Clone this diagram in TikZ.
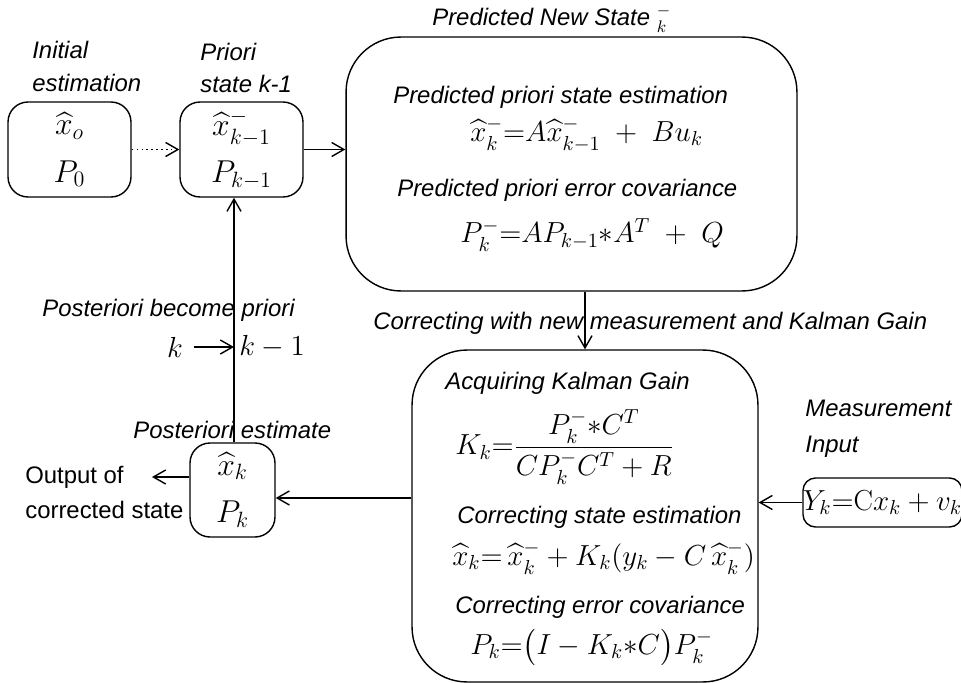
\documentclass[tikz,border=0pt]{standalone}
\usepackage{fix-cm}
\usepackage{amsmath}
\usepackage{fontspec}
\setsansfont{Liberation Sans}
\usetikzlibrary{arrows.meta}

\tikzset{
  box/.style = {draw, line width=0.8pt, rounded corners=0.4cm, align=center, inner sep=0pt,
                font=\fontsize{18}{21}\selectfont},
  bigbox/.style = {draw, line width=0.8pt, rounded corners=1.1cm, inner sep=0pt},
  lbl/.style = {font=\sffamily\itshape\fontsize{13.6}{16}\selectfont, anchor=west, inner sep=0pt},
  txt/.style = {font=\sffamily\fontsize{13.6}{16}\selectfont, anchor=west, inner sep=0pt},
  eqn/.style = {font=\fontsize{16.5}{19}\selectfont, anchor=west, inner sep=0pt},
  arr/.style = {-{Straight Barb[length=7pt,width=8pt]}, line width=0.8pt}
}

\begin{document}
\begin{tikzpicture}[x=0.02cm, y=-0.02cm]
    \useasboundingbox (0,0) rectangle (961,683);
    % Draw the boxes
    \node[box, minimum width=2.46cm, minimum height=1.9cm] (init) at (69.5,149.5) {$\widehat{x}_o$\\[6pt] $P_0$};
    \node[box, minimum width=2.46cm, minimum height=1.9cm] (prio) at (241.5,149.5) {$\widehat{x}_{k-1}^{-}$\\[6pt] $P_{k-1}$};
    \node[bigbox, minimum width=9.02cm, minimum height=5.08cm] (pred) at (571.5,164) {};
    \node[bigbox, minimum width=6.92cm, minimum height=6.64cm] (corr) at (585,516) {};
    \node[box, minimum width=1.7cm, minimum height=1.88cm] (post) at (232.5,490) {$\widehat{x}_k$\\[6pt] $P_k$};
    \node[box, rounded corners=0.25cm, minimum width=3.1cm, minimum height=0.98cm,
          font=\fontsize{16.5}{19}\selectfont] (meas) at (882.5,502.5) {$Y_k{=}\mathrm{C}x_k + v_k$};
    % Labels over the boxes
    \node[lbl] (initl1) at (32,50) {Initial};
    \node[lbl] (initl2) at (32,83) {estimation};
    \node[lbl] (priol1) at (200,52) {Priori};
    \node[lbl] (priol2) at (200,84) {state k-1};
    \node[lbl] (predl) at (432,19) {Predicted New State ${}^{-}_{k}$};
    \node[lbl] (postl) at (133,430) {Posteriori estimate};
    \node[lbl] (becl) at (42,310) {Posteriori become priori};
    \node[lbl] (corrl) at (373,323) {Correcting with new measurement and Kalman Gain};
    \node[lbl] (measl1) at (805,408) {Measurement};
    \node[lbl] (measl2) at (805,447) {Input};
    \node[txt] (outl1) at (25,477) {Output of};
    \node[txt] (outl2) at (25,510) {corrected state};
    % Prediction step
    \node[lbl] (predt1) at (393,97) {Predicted priori state estimation};
    \node[eqn] (prede1) at (470,135) {$\widehat{x}_k^{-}{=}A\widehat{x}_{k-1}^{-} \;+\; Bu_k$};
    \node[lbl] (predt2) at (397,190) {Predicted priori error covariance};
    \node[eqn] (prede2) at (460,235) {$P_k^{-}{=}AP_{k-1}{*}A^T \;+\; Q$};
    % Correction step
    \node[lbl] (corrt1) at (445,383) {Acquiring Kalman Gain};
    \node[eqn] (corre1) at (455,447) {$K_k{=}\dfrac{P_k^{-}{*}C^T}{CP_k^{-}C^T + R}$};
    \node[lbl] (corrt2) at (457,517) {Correcting state estimation};
    \node[eqn] (corre2) at (452,558) {$\widehat{x}_k{=}\,\widehat{x}_k^{-} + K_k(y_k - C\,\widehat{x}_k^{-})$};
    \node[lbl] (corrt3) at (455,607) {Correcting error covariance};
    \node[eqn] (corre3) at (470,647) {$P_k{=}\bigl(I - K_k{*}C\bigr)P_k^{-}$};
    % k to k-1
    \node[eqn, anchor=center] (kold) at (175,347) {$k$};
    \node[eqn] (knew) at (239,347) {$k-1$};
    % Draw the arrows
    \draw[arr, dotted] (init.east) -- (prio.west);
    \draw[arr] (prio.east) -- (prio.east -| pred.west);
    \draw[arr] (corr.north |- pred.south) -- (corr.north);
    \draw[arr] (meas.west) -- (meas.west -| corr.east);
    \draw[arr] ([yshift=-0.16cm]corr.west |- post.east) -- ([yshift=-0.16cm]post.east);
    \draw[arr] ([xshift=0.03cm]post.north) -- ([xshift=0.03cm]post.north |- prio.south);
    \draw[arr, shorten <=6pt] (kold) -- ([xshift=0.03cm]kold -| post.north);
    \coordinate (out) at (152,477);
    \draw[arr] (post.west |- out) -- (out);
\end{tikzpicture}
\end{document}
